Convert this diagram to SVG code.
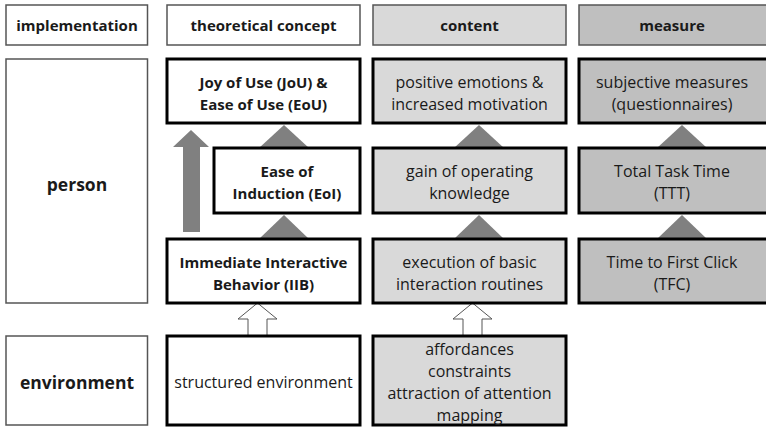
<svg xmlns="http://www.w3.org/2000/svg" width="766" height="428" viewBox="0 0 766 428">
  <style>
    text { font-family: "Open Sans", "Noto Sans", sans-serif; fill: #1a1a1a; text-anchor: middle; dominant-baseline: central; }
    .hdr { stroke: #555555; stroke-width: 1.5; }
    .lbl { fill: #ffffff; stroke: #555555; stroke-width: 1.5; }
    .node { stroke: #000000; stroke-width: 3; }
    .w { fill: #ffffff; }
    .c { fill: #d9d9d9; }
    .m { fill: #bfbfbf; }
    .b { font-weight: bold; font-size: 15px; }
    .bh { font-weight: bold; font-size: 15px; }
    .row { font-weight: bold; font-size: 17.5px; }
    .r { font-size: 16px; }
    .tri { fill: #808080; }
    .open { fill: #ffffff; stroke: #555555; stroke-width: 1; }
  </style>

  <!-- column headers -->
  <g id="hdr-implementation">
    <rect class="hdr w" x="6" y="5" width="141.5" height="40"/>
    <text class="bh" x="77" y="25">implementation</text>
  </g>
  <g id="hdr-theory">
    <rect class="hdr w" x="167" y="5" width="193" height="40"/>
    <text class="bh" x="263.5" y="25">theoretical concept</text>
  </g>
  <g id="hdr-content">
    <rect class="hdr c" x="373" y="5" width="193" height="40"/>
    <text class="bh" x="469.5" y="25">content</text>
  </g>
  <g id="hdr-measure">
    <rect class="hdr m" x="579" y="5" width="193" height="40"/>
    <text class="bh" x="672" y="25">measure</text>
  </g>

  <!-- row labels -->
  <g id="row-person">
    <rect class="lbl" x="6" y="59" width="141.5" height="244"/>
    <text class="row" x="77" y="184">person</text>
  </g>
  <g id="row-environment">
    <rect class="lbl" x="6" y="336" width="141.5" height="89"/>
    <text class="row" x="77" y="382">environment</text>
  </g>

  <!-- connectors -->
  <g id="connectors">
    <!-- long arrow IIB -> JoU/EoU -->
    <polygon class="tri" points="183,232 183,147 173,147 191,130 209,147 200,147 200,232"/>
    <!-- stacking triangles -->
    <polygon class="tri" points="259,148 284,125 309,148"/>
    <polygon class="tri" points="259,239 284,215 309,239"/>
    <polygon class="tri" points="454,148 479,125 504,148"/>
    <polygon class="tri" points="454,239 479,215 504,239"/>
    <polygon class="tri" points="657,148 682,125 707,148"/>
    <polygon class="tri" points="657,239 682,215 707,239"/>
    <!-- open arrows from the environment row -->
    <polygon class="open" points="248,336 248,319 238,319 257.5,303 277,319 267,319 267,336"/>
    <polygon class="open" points="463,336 463,319 453,319 472.5,303 492,319 482,319 482,336"/>
  </g>

  <!-- theoretical concept nodes -->
  <g id="jou-eou">
    <rect class="node w" x="167" y="59" width="193" height="64"/>
    <text class="b" x="263.5" y="82">Joy of Use (JoU) &amp;</text>
    <text class="b" x="263.5" y="104">Ease of Use (EoU)</text>
  </g>
  <g id="eoi">
    <rect class="node w" x="214" y="148" width="146" height="65"/>
    <text class="b" x="287" y="171">Ease of</text>
    <text class="b" x="287" y="193">Induction (EoI)</text>
  </g>
  <g id="iib">
    <rect class="node w" x="167" y="239" width="193" height="64"/>
    <text class="b" x="263.5" y="262">Immediate Interactive</text>
    <text class="b" x="263.5" y="284">Behavior (IIB)</text>
  </g>
  <g id="structured-env">
    <rect class="node w" x="167" y="336" width="193" height="89"/>
    <text class="r" x="263.5" y="382">structured environment</text>
  </g>

  <!-- content nodes -->
  <g id="emotions">
    <rect class="node c" x="373" y="59" width="193" height="64"/>
    <text class="r" x="469.5" y="82">positive emotions &amp;</text>
    <text class="r" x="469.5" y="104">increased motivation</text>
  </g>
  <g id="knowledge">
    <rect class="node c" x="373" y="148" width="193" height="65"/>
    <text class="r" x="469.5" y="171">gain of operating</text>
    <text class="r" x="469.5" y="193">knowledge</text>
  </g>
  <g id="routines">
    <rect class="node c" x="373" y="239" width="193" height="64"/>
    <text class="r" x="469.5" y="262">execution of basic</text>
    <text class="r" x="469.5" y="284">interaction routines</text>
  </g>
  <g id="affordances">
    <rect class="node c" x="373" y="336" width="193" height="89"/>
    <text class="r" x="469.5" y="349">affordances</text>
    <text class="r" x="469.5" y="371">constraints</text>
    <text class="r" x="469.5" y="393">attraction of attention</text>
    <text class="r" x="469.5" y="415">mapping</text>
  </g>

  <!-- measure nodes -->
  <g id="questionnaires">
    <rect class="node m" x="579" y="59" width="193" height="64"/>
    <text class="r" x="672" y="82">subjective measures</text>
    <text class="r" x="672" y="104">(questionnaires)</text>
  </g>
  <g id="ttt">
    <rect class="node m" x="579" y="148" width="193" height="65"/>
    <text class="r" x="672" y="171">Total Task Time</text>
    <text class="r" x="672" y="193">(TTT)</text>
  </g>
  <g id="tfc">
    <rect class="node m" x="579" y="239" width="193" height="64"/>
    <text class="r" x="672" y="262">Time to First Click</text>
    <text class="r" x="672" y="284">(TFC)</text>
  </g>
</svg>
